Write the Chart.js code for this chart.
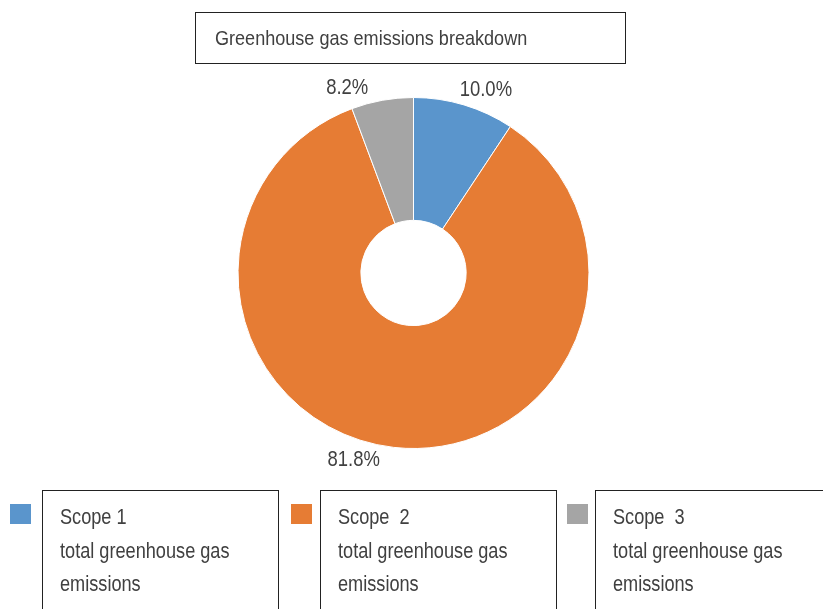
<!DOCTYPE html>
<html>
<head>
<meta charset="utf-8">
<script src="https://cdn.jsdelivr.net/npm/chart.js@4/dist/chart.umd.min.js"></script>
<style>
  html, body { margin:0; padding:0; background:#fff; }
  body { width:823px; height:609px; position:relative; overflow:hidden;
         font-family:"Liberation Sans","Arial",sans-serif; color:#404040; }
  #wrap { position:absolute; left:0; top:0; width:823px; height:609px; }
  .title { position:absolute; left:195px; top:12px; width:431px; height:52px; border:1px solid #222;
           box-sizing:border-box; }
  .title span { position:absolute; left:19px; top:0; font-size:21px; line-height:50px; white-space:nowrap;
           transform:scaleX(0.86); transform-origin:0 50%; }
  .lg-box { position:absolute; top:490px; width:237px; height:140px; border:1px solid #222; box-sizing:border-box; }
  .lg-box span { position:absolute; left:17px; top:9px; font-size:22px; line-height:33.5px; white-space:pre;
           transform:scaleX(0.825); transform-origin:0 0; }
  .lg-sw { position:absolute; top:504px; width:21px; height:20px; }
</style>
</head>
<body>
<div id="wrap"><canvas id="c" width="823" height="609"></canvas></div>
<div class="title"><span id="title"></span></div>
<div id="legend"></div>
<script>
// ---- data ----
const titleText = "Greenhouse gas emissions breakdown";
const categories = ["Scope 1", "Scope  2", "Scope  3"];
const categoryNotes = ["total greenhouse gas\nemissions", "total greenhouse gas\nemissions", "total greenhouse gas\nemissions"];
const sliceValues = [9.3, 85.0, 5.7];          // as drawn
const sliceLabels = ["10.0%", "81.8%", "8.2%"]; // as printed
const sliceColors = ["#5A95CC", "#E67C34", "#A5A5A5"];

document.getElementById('title').textContent = titleText;

// legend (HTML)
const legendLeft = [42, 320, 595];
const swatchLeft = [10, 291, 567];
const lg = document.getElementById('legend');
categories.forEach((c, i) => {
  const sw = document.createElement('div');
  sw.className = 'lg-sw';
  sw.style.left = swatchLeft[i] + 'px';
  sw.style.background = sliceColors[i];
  lg.appendChild(sw);
  const b = document.createElement('div');
  b.className = 'lg-box';
  b.style.left = legendLeft[i] + 'px';
  const s = document.createElement('span');
  s.textContent = c + "\n" + categoryNotes[i];
  b.appendChild(s);
  lg.appendChild(b);
});

// outside labels plugin
const labelAngles = [21.6, 197.7, -19.7]; // degrees clockwise from top
const labelRadiusFactor = 1.12;
const outsideLabels = {
  id: 'outsideLabels',
  afterDatasetsDraw(chart) {
    const ctx = chart.ctx;
    const meta = chart.getDatasetMeta(0);
    const arc = meta.data[0];
    const cx = arc.x, cy = arc.y, r = arc.outerRadius;
    ctx.save();
    ctx.font = '22px "Liberation Sans",Arial,sans-serif';
    ctx.fillStyle = '#404040';
    ctx.textAlign = 'center';
    ctx.textBaseline = 'middle';
    sliceLabels.forEach((t, i) => {
      const a = labelAngles[i] * Math.PI / 180;
      const x = cx + Math.sin(a) * r * labelRadiusFactor;
      const y = cy - Math.cos(a) * r * labelRadiusFactor;
      ctx.save();
      ctx.translate(x, y);
      ctx.scale(0.84, 1);
      ctx.fillText(t, 0, 0);
      ctx.restore();
    });
    ctx.restore();
  }
};

new Chart(document.getElementById('c'), {
  type: 'doughnut',
  data: {
    labels: categories,
    datasets: [{
      data: sliceValues,
      backgroundColor: sliceColors,
      borderColor: '#ffffff',
      borderWidth: 1,
      hoverOffset: 0
    }]
  },
  options: {
    responsive: false,
    animation: false,
    cutout: '30%',
    layout: { padding: { left: 237, top: 97, right: 233, bottom: 160 } },
    plugins: { legend: { display: false }, tooltip: { enabled: false }, title: { display: false } }
  },
  plugins: [outsideLabels]
});
</script>
</body>
</html>
